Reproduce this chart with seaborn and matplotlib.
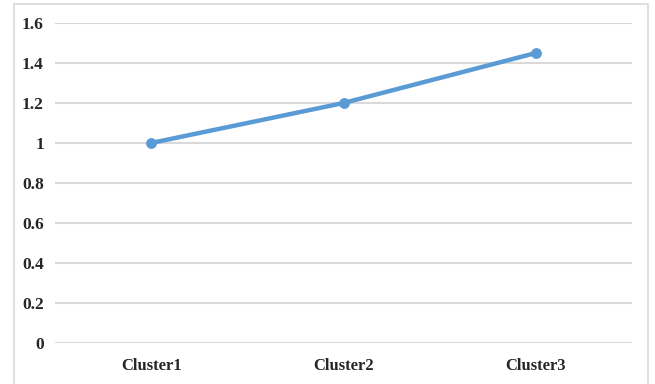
import matplotlib
matplotlib.use("Agg")
import matplotlib.pyplot as plt
import seaborn as sns
import pandas as pd
from matplotlib.patches import Rectangle

clusters = ["Cluster1", "Cluster2", "Cluster3"]
values = [1.0, 1.2, 1.45]
y_ticks = [0, 0.2, 0.4, 0.6, 0.8, 1.0, 1.2, 1.4, 1.6]
y_tick_labels = ["0", "0.2", "0.4", "0.6", "0.8", "1", "1.2", "1.4", "1.6"]

sns.set_style("white")
plt.rcParams["font.family"] = ["Liberation Serif", "DejaVu Serif"]

df = pd.DataFrame({"cluster": clusters, "value": values})

fig = plt.figure(figsize=(6.55, 3.84), dpi=100)
ax = fig.add_axes([55 / 655, 41 / 384, 577 / 655, 320 / 384])

# outer chart-area frame
fig.patches.append(Rectangle((13.5 / 655, -0.05), 634.5 / 655, 1.05 - 4.5 / 384,
                             transform=fig.transFigure, fill=False,
                             edgecolor="#d9d9d9", linewidth=1.2, zorder=0))

x_pos = list(range(len(clusters)))
df["pos"] = x_pos
sns.lineplot(data=df, x="pos", y="value", ax=ax, color="#5b9bd5",
             linewidth=3.2, marker="o", markersize=7,
             markeredgecolor="#5b9bd5", zorder=3)

ax.set_xlim(-0.5, len(clusters) - 0.5)
ax.set_ylim(0, 1.6)
ax.set_yticks(y_ticks)
ax.set_yticklabels(y_tick_labels, fontsize=12.5, fontweight="bold")
ax.set_xticks(x_pos)
ax.set_xticklabels(clusters, fontsize=12, fontweight="bold")
ax.tick_params(axis="x", length=0, pad=11)
ax.tick_params(axis="y", length=0, pad=8)
ax.grid(axis="y", color="#d9d9d9", linewidth=1.5)
ax.set_axisbelow(True)
for s in ax.spines.values():
    s.set_visible(False)
ax.set_xlabel("")
ax.set_ylabel("")

fig.savefig("out.png", dpi=100)
